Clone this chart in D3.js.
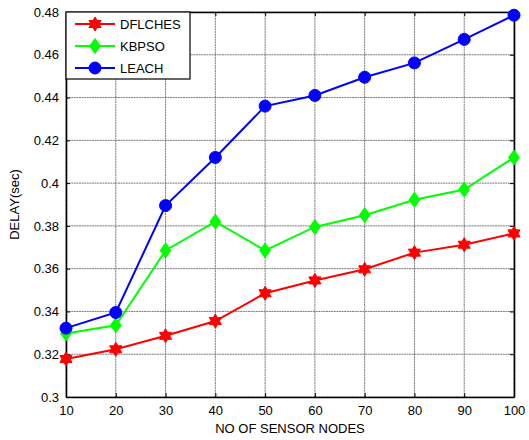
<!DOCTYPE html>
<html>
<head>
<meta charset="utf-8">
<script src="https://cdn.jsdelivr.net/npm/d3@7"></script>
<style>
body { margin: 0; background: #fff; }
text { font-family: "Liberation Sans", Arial, sans-serif; }
</style>
</head>
<body>
<svg width="529" height="440"></svg>
<script>
const nodes = [10, 20, 30, 40, 50, 60, 70, 80, 90, 100];
const dflches = [0.3178, 0.3223, 0.3286, 0.3355, 0.3485, 0.3545, 0.3597, 0.3675, 0.3712, 0.3765];
const kbpso = [0.3297, 0.3335, 0.3685, 0.382, 0.3685, 0.3795, 0.385, 0.3922, 0.397, 0.412];
const leach = [0.3322, 0.3395, 0.3895, 0.412, 0.436, 0.441, 0.4495, 0.4562, 0.4672, 0.4785];
const yTicks = [0.3, 0.32, 0.34, 0.36, 0.38, 0.4, 0.42, 0.44, 0.46, 0.48];
const seriesNames = ['DFLCHES', 'KBPSO', 'LEACH'];

const W = 529, H = 440;
const margin = {left: 66, right: 15, top: 12, bottom: 43};
const svg = d3.select('svg');

const x = d3.scaleLinear().domain([10, 100]).range([margin.left, W - margin.right]);
const y = d3.scaleLinear().domain([0.3, 0.48]).range([H - margin.bottom, margin.top]);

// grid
const grid = svg.append('g');
grid.selectAll('.gx').data(nodes).enter().append('line')
  .attr('x1', d => x(d)).attr('x2', d => x(d))
  .attr('y1', y(0.3)).attr('y2', y(0.48))
  .attr('stroke', '#6e6e6e').attr('stroke-width', 0.9).attr('stroke-dasharray', '2,0.6');
grid.selectAll('.gy').data(yTicks).enter().append('line')
  .attr('x1', x(10)).attr('x2', x(100))
  .attr('y1', d => y(d)).attr('y2', d => y(d))
  .attr('stroke', '#6e6e6e').attr('stroke-width', 0.9).attr('stroke-dasharray', '2,0.6');

// axes (ticks inward)
const fmt = d => d3.format('~g')(d);
const xAxis = svg.append('g').attr('transform', `translate(0,${y(0.3)})`)
  .call(d3.axisBottom(x).tickValues(nodes).tickSizeInner(-4).tickSizeOuter(0).tickPadding(9));
const xTop = svg.append('g').attr('transform', `translate(0,${y(0.48)})`)
  .call(d3.axisTop(x).tickValues(nodes).tickSizeInner(-4).tickSizeOuter(0).tickFormat(''));
const yAxis = svg.append('g').attr('transform', `translate(${x(10)},0)`)
  .call(d3.axisLeft(y).tickValues(yTicks).tickFormat(fmt).tickSizeInner(-4).tickSizeOuter(0).tickPadding(7));
const yRight = svg.append('g').attr('transform', `translate(${x(100)},0)`)
  .call(d3.axisRight(y).tickValues(yTicks).tickSizeInner(-4).tickSizeOuter(0).tickFormat(''));

[xAxis, xTop, yAxis, yRight].forEach(g => {
  g.select('.domain').attr('stroke', '#000').attr('stroke-width', 1.6);
  g.selectAll('.tick line').attr('stroke', '#000');
  g.selectAll('.tick text').attr('font-size', 13).attr('fill', '#000')
    .attr('font-family', '"Liberation Sans", Arial, sans-serif');
});
yAxis.selectAll('.tick text').attr('dy', '0.32em');

// axis labels
svg.append('text').attr('x', (x(10) + x(100)) / 2).attr('y', 433)
  .attr('text-anchor', 'middle').attr('font-size', 13).text('NO OF SENSOR NODES');
svg.append('text').attr('transform', `translate(19,${(y(0.3) + y(0.48)) / 2}) rotate(-90)`)
  .attr('text-anchor', 'middle').attr('font-size', 13).text('DELAY(sec)');

// markers
const hexagram = (r) => {
  const pts = [];
  for (let i = 0; i < 12; i++) {
    const a = Math.PI / 6 * i - Math.PI / 2;
    const rr = i % 2 === 0 ? r : r * 0.58;
    pts.push([rr * Math.cos(a), rr * Math.sin(a)]);
  }
  return 'M' + pts.map(p => p.join(',')).join('L') + 'Z';
};
const diamond = (r) => `M0,${-r}L${r * 0.72},0L0,${r}L${-r * 0.72},0Z`;
const circle = (r) => `M${r},0A${r},${r} 0 1,1 ${-r},0A${r},${r} 0 1,1 ${r},0Z`;

const series = [
  {name: seriesNames[0], values: dflches, color: '#ff0000', marker: hexagram(7)},
  {name: seriesNames[1], values: kbpso, color: '#00ff00', marker: diamond(7.5)},
  {name: seriesNames[2], values: leach, color: '#0000ff', marker: circle(6)}
];

const line = d3.line().x((d, i) => x(nodes[i])).y(d => y(d));

series.forEach(s => {
  const g = svg.append('g');
  g.append('path').datum(s.values).attr('d', line)
    .attr('fill', 'none').attr('stroke', s.color).attr('stroke-width', 2);
  g.selectAll('path.m').data(s.values).enter().append('path').attr('class', 'm')
    .attr('d', s.marker)
    .attr('transform', (d, i) => `translate(${x(nodes[i])},${y(d)})`)
    .attr('fill', s.color).attr('stroke', s.color).attr('stroke-width', 1);
});

// legend
const lg = svg.append('g').attr('transform', `translate(${x(10)},${y(0.48)})`);
lg.append('rect').attr('x', 0).attr('y', 0).attr('width', 124).attr('height', 67)
  .attr('fill', '#fff').attr('stroke', '#000').attr('stroke-width', 1.2);
series.forEach((s, i) => {
  const ly = 12 + i * 22;
  lg.append('line').attr('x1', 9).attr('x2', 49).attr('y1', ly).attr('y2', ly)
    .attr('stroke', s.color).attr('stroke-width', 2);
  lg.append('path').attr('d', s.marker).attr('transform', `translate(29,${ly})`)
    .attr('fill', s.color).attr('stroke', s.color);
  lg.append('text').attr('x', 54).attr('y', ly).attr('dy', '0.35em')
    .attr('font-size', 13).text(s.name);
});
</script>
</body>
</html>
